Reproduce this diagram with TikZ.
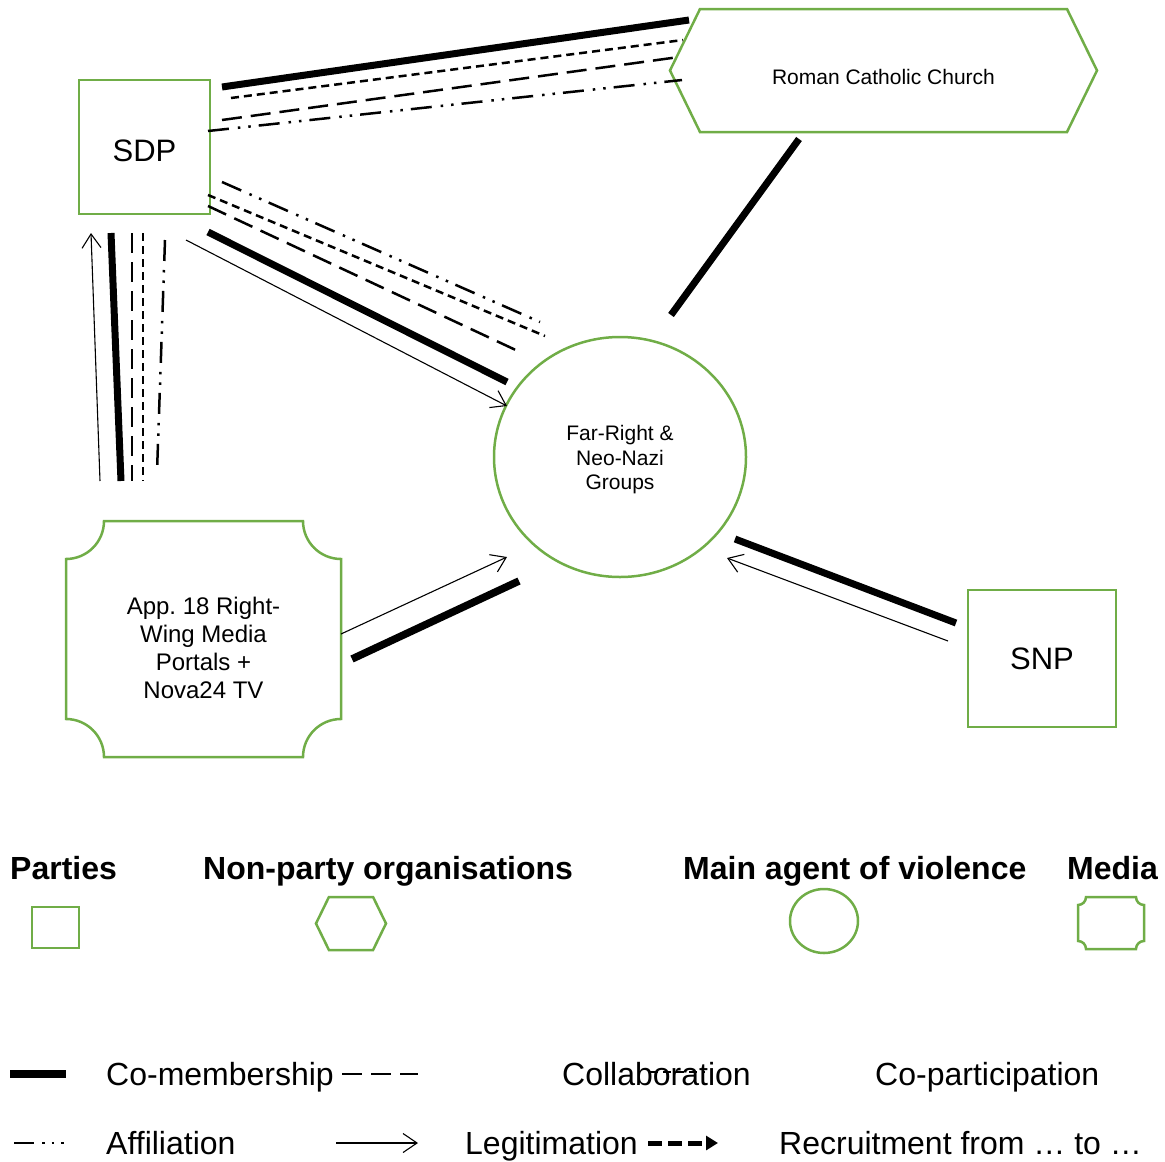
\documentclass[tikz,border=0pt]{standalone}
\usepackage{fontspec}
\setmainfont{Liberation Sans}
\usepackage{tikz}
\usetikzlibrary{shapes.geometric,shapes.symbols,arrows.meta,positioning}
\definecolor{ShapeGreen}{RGB}{112,173,71}
\tikzstyle{party} = [rectangle, draw=ShapeGreen, line width=2.5pt, inner sep=0pt, outer sep=0pt, text centered]
\tikzstyle{nonparty} = [signal, signal to=west and east, signal pointer angle=128, draw=ShapeGreen, line width=2.5pt, inner sep=0pt, outer sep=0pt]
\tikzstyle{agent} = [ellipse, draw=ShapeGreen, line width=2.5pt, inner sep=0pt, outer sep=0pt, align=center]
\tikzstyle{media} = [rectangle, inner sep=0pt, outer sep=0pt, align=center]
\tikzstyle{comember} = [line width=7pt]
\tikzstyle{collab} = [line width=2.5pt, dash pattern=on 20pt off 9pt]
\tikzstyle{copart} = [line width=2.5pt, dash pattern=on 8pt off 5pt]
\tikzstyle{affil} = [line width=2.5pt, dash pattern=on 21pt off 9pt on 2.5pt off 8pt on 2.5pt off 8pt]
\tikzstyle{legit} = [line width=1.1pt, -{Straight Barb[length=14pt,width=19pt]}]
\tikzstyle{recruit} = [line width=5pt, dash pattern=on 14pt off 6pt, -{Triangle[length=12pt,width=14pt]}]
\tikzstyle{legtext} = [anchor=base west, inner sep=0pt, font=\fontsize{32}{38}\selectfont]
\tikzstyle{legtitle} = [anchor=base west, inner sep=0pt, font=\bfseries\fontsize{32}{38}\selectfont]
% Rahmen mit eingezogenen Ecken (Medien)
\newcommand{\mediaoutline}[2]{%
  \draw [draw=ShapeGreen, line width=2.5pt] ([xshift=#2]#1.north west) -- ([xshift=-#2]#1.north east)
    arc[start angle=180, end angle=270, radius=#2] -- ([yshift=#2]#1.south east)
    arc[start angle=90, end angle=180, radius=#2] -- ([xshift=#2]#1.south west)
    arc[start angle=0, end angle=90, radius=#2] -- ([yshift=-#2]#1.north west)
    arc[start angle=270, end angle=360, radius=#2] -- cycle;}

\begin{document}
\begin{tikzpicture}[x=1pt, y=1pt]
\useasboundingbox (0,0) rectangle (1165,-1162);

% Akteure
\node (sdp) [party, minimum width=131, minimum height=134, font=\fontsize{31}{37}\selectfont] at (144.5,-147) {\rule{0pt}{29pt}SDP};
\node (church) [nonparty, minimum width=427, minimum height=123, font=\fontsize{21}{25}\selectfont] at (883.5,-70.5) {\rule{0pt}{28.3pt}Roman Catholic Church};
\node (far) [agent, minimum width=252, minimum height=240, font=\fontsize{21}{24.5}\selectfont] at (620,-457) {\rule{0pt}{21.3pt}Far-Right \&\\Neo-Nazi\\Groups};
\node (portals) [media, minimum width=275, minimum height=236, font=\fontsize{24}{28}\selectfont] at (203.5,-639) {\rule{0pt}{34.5pt}App.\ 18 Right-\\Wing Media\\Portals +\\Nova24 TV};
\mediaoutline{portals}{38}
\node (snp) [party, minimum width=148, minimum height=137, font=\fontsize{31}{37}\selectfont] at (1042,-658.5) {SNP};

% SDP - Kirche
\draw [comember] ([shift={(12,-7)}]sdp.north east) -- ([shift={(-194.5,50.5)}]church.center);
\draw [copart] ([shift={(21,-18)}]sdp.north east) -- ([shift={(-200.5,30.5)}]church.center);
\draw [collab] ([shift={(12,-40)}]sdp.north east) -- ([shift={(-204.5,13.5)}]church.center);
\draw [affil] ([shift={(-2,-51)}]sdp.north east) -- ([shift={(-201.5,-9.5)}]church.center);

% SDP - Gruppen
\draw [affil] ([shift={(12,32)}]sdp.south east) -- ([shift={(-80,135)}]far.center);
\draw [copart] ([shift={(-2,19)}]sdp.south east) -- ([shift={(-75,121)}]far.center);
\draw [collab] ([shift={(-2,8)}]sdp.south east) -- ([shift={(-100,105)}]far.center);
\draw [comember] ([shift={(-2,-18)}]sdp.south east) -- ([shift={(-113,75)}]far.center);
\draw [legit] ([shift={(-24,-26)}]sdp.south east) -- ([shift={(-113,51)}]far.center);

% SDP - Medien
\draw [legit] ([shift={(34,40)}]portals.north west) -- ([shift={(12,-19)}]sdp.south west);
\draw [comember] ([shift={(32,-19)}]sdp.south west) -- ([shift={(55,40)}]portals.north west);
\draw [collab] ([shift={(53,-19)}]sdp.south west) -- ([shift={(66,40)}]portals.north west);
\draw [copart] ([shift={(64,-19)}]sdp.south west) -- ([shift={(77,40)}]portals.north west);
\draw [affil] ([shift={(86,-26)}]sdp.south west) -- ([shift={(91,49)}]portals.north west);

% Kirche - Gruppen
\draw [comember] ([shift={(-84.5,-7)}]church.south) -- ([shift={(51,22)}]far.north);

% Medien - Gruppen
\draw [legit] ([shift={(0,5)}]portals.east) -- ([shift={(-113,-100)}]far.center);
\draw [comember, line width=7.5pt] ([shift={(11,-20)}]portals.east) -- ([shift={(-101,-124)}]far.center);

% SNP - Gruppen
\draw [comember] ([shift={(-12,35.5)}]snp.west) -- ([shift={(115,-82)}]far.center);
\draw [legit] ([shift={(-20,17.5)}]snp.west) -- ([shift={(107,-101)}]far.center);

% Legende
\node (tparty) [legtitle] at (10,-879) {Parties};
\node (tnonparty) [legtitle] at (203,-879) {Non-party organisations};
\node (tagent) [legtitle] at (683,-879) {Main agent of violence};
\node (tmedia) [legtitle] at (1067,-879) {Media};

\node (legparty) [party, minimum width=47, minimum height=41] at (55.5,-927.5) {};
\node (legnonparty) [nonparty, minimum width=70, minimum height=53] at (351,-923.5) {};
\node (legagent) [agent, minimum width=68, minimum height=64] at (824,-921) {};
\node (legmedia) [media, minimum width=66, minimum height=52] at (1111,-923) {};
\mediaoutline{legmedia}{8}

\draw [comember, line width=8pt] (10,-1074) -- (66,-1074);
\node (lcomember) [legtext] at (106,-1085) {Co-membership};
\draw [collab] (342,-1074) -- (418,-1074);
\node (lcollab) [legtext] at (562,-1085) {Collaboration};
\draw [copart] (650,-1072) -- (705,-1072);
\node (lcopart) [legtext] at (875,-1085) {Co-participation};

\draw [line width=2.5pt, dash pattern=on 20pt off 8pt on 2.5pt off 7pt on 2.5pt off 7pt on 2.5pt off 20pt] (14,-1143) -- (70,-1143);
\node (laffil) [legtext] at (106,-1154) {Affiliation};
\draw [legit] (336,-1143) -- (418,-1143);
\node (llegit) [legtext] at (465,-1154) {Legitimation};
\draw [recruit] (648,-1143) -- (718,-1143);
\node (lrecruit) [legtext] at (779,-1154) {Recruitment from … to …};

\end{tikzpicture}
\end{document}
